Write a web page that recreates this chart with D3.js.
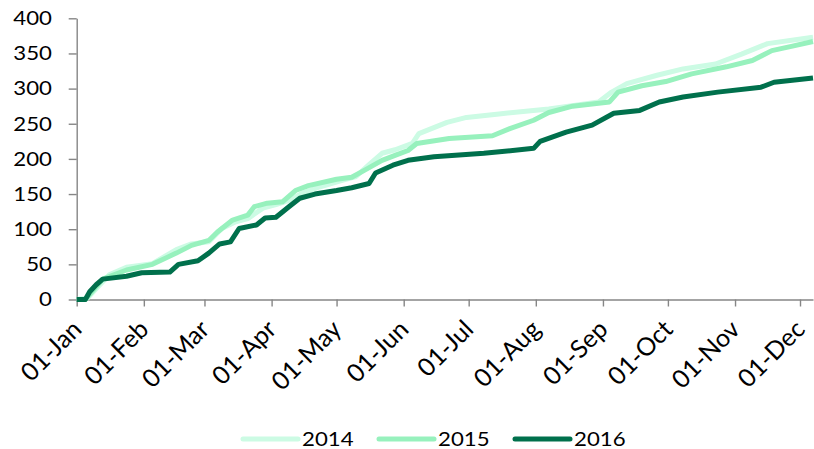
<!DOCTYPE html>
<html>
<head>
<meta charset="utf-8">
<script src="https://cdn.jsdelivr.net/npm/d3@7"></script>
<style>
body { margin: 0; background: #fff; }
text { font-family: Lato, "Open Sans", sans-serif; fill: #000; }
.axis path, .axis line { stroke: #868686; stroke-width: 1.4px; }
.series { fill: none; stroke-width: 5px; stroke-linejoin: round; stroke-linecap: butt; }
</style>
</head>
<body>
<div id="chart"></div>
<script>
// month-day on a common (non leap) year axis
const dates2014 = ['01-01','01-06','01-16','01-24','02-05','02-16','02-23','03-03','03-09','03-15','03-21','03-28','04-03','04-09','04-15','04-23','05-04','05-10','05-16','05-22','05-28','06-05','06-08','06-21','06-30','07-15','08-07','08-30','09-05','09-12','09-26','10-08','10-23','11-04','11-16','12-07']
const values2014 = [0,2,35,46,51,71,79,82,101,110,115,130,135,141,151,160,170,175,192,208,213,222,236,252,259,264,271,281,295,307,319,328,335,349,364,373]

const dates2015 = ['01-01','01-05','01-13','01-24','02-05','02-16','02-23','03-03','03-07','03-14','03-21','03-24','03-30','04-06','04-12','04-18','05-01','05-08','05-14','05-22','05-28','06-03','06-07','06-22','07-12','07-20','07-31','08-07','08-18','09-04','09-08','09-19','09-30','10-12','10-28','11-09','11-18','11-27','12-07']
const values2015 = [0,0,29,42,50,66,77,84,96,113,120,132,137,139,155,162,171,174,184,198,205,212,222,229,233,243,255,266,275,281,295,304,310,321,331,340,354,360,367]

const dates2016 = ['01-01','01-05','01-07','01-10','01-13','01-24','01-31','02-13','02-17','02-26','03-03','03-08','03-13','03-17','03-25','03-29','04-03','04-09','04-14','04-21','05-01','05-08','05-16','05-19','05-27','06-03','06-15','07-08','07-31','08-03','08-15','08-27','09-06','09-18','09-27','10-08','10-24','11-13','11-19','12-07']
const values2016 = [0,0,11,21,29,33,38,39,50,55,66,79,82,101,106,116,117,132,144,150,155,159,165,180,191,198,203,208,215,225,238,248,265,269,281,288,295,302,309,315]

const seriesNames = ['2014', '2015', '2016']
const seriesColors = ['#ccfbe4', '#97f1bd', '#00704c']

const yTicks = [0, 50, 100, 150, 200, 250, 300, 350, 400]
const monthTicks = ['01-01','02-01','03-01','04-01','05-01','06-01','07-01','08-01','09-01','10-01','11-01','12-01']

const width = 814, height = 449;
const margin = {left: 76.7, top: 18.3, right: 1, bottom: 149.5}

const parse = s => d3.timeParse('%Y-%m-%d')('2015-' + s);
const textStretch = 1.17;

const svg = d3.select('#chart')
.append('svg')
.attr('width', width)
.attr('height', height);

const xScale = d3.scaleTime()
.domain([parse('01-01'), parse('12-07')])
.range([margin.left, width - margin.right]);

const yScale = d3.scaleLinear()
.domain([0, 400])
.range([height - margin.bottom, margin.top]);

// y axis
svg.append('g')
.attr('class', 'axis')
.attr('transform', `translate(${margin.left},0)`)
.call(d3.axisLeft(yScale).tickValues(yTicks).tickSize(8).tickSizeOuter(0).tickFormat(''));

svg.selectAll('.ylab')
.data(yTicks)
.enter()
.append('text')
.attr('class', 'ylab')
.attr('transform', d => `translate(52,${yScale(d)}) scale(${textStretch},1)`)
.attr('text-anchor', 'end')
.attr('dy', '0.36em')
.style('font-size', '19px')
.text(d => d);

// x axis
svg.append('g')
.attr('class', 'axis')
.attr('transform', `translate(0,${height - margin.bottom})`)
.call(d3.axisBottom(xScale).tickValues(monthTicks.map(parse)).tickSize(7).tickSizeOuter(0).tickFormat(''));

svg.selectAll('.xlab')
.data(monthTicks)
.enter()
.append('text')
.attr('class', 'xlab')
.attr('transform', d => `translate(${xScale(parse(d))},${height - margin.bottom + 25}) rotate(-45)`)
.attr('text-anchor', 'end')
.attr('dy', '0.36em')
.style('font-size', '25px')
.text(d => d3.timeFormat('%d-%b')(parse(d)));

// lines
const line = d3.line()
.curve(d3.curveLinear)
.x(d => xScale(d.date))
.y(d => yScale(d.value));

const allSeries = [
	dates2014.map((d, i) => ({date: parse(d), value: values2014[i]})),
	dates2015.map((d, i) => ({date: parse(d), value: values2015[i]})),
	dates2016.map((d, i) => ({date: parse(d), value: values2016[i]}))
];

svg.selectAll('.series')
.data(allSeries)
.enter()
.append('path')
.attr('class', 'series')
.attr('stroke', (d, i) => seriesColors[i])
.attr('d', d => line(d));

// legend
const legendX = [243, 379, 515];
const legend = svg.selectAll('.legend')
.data(seriesNames)
.enter()
.append('g')
.attr('class', 'legend')
.attr('transform', (d, i) => `translate(${legendX[i]},439)`);

legend.append('line')
.attr('x1', 0).attr('x2', 55)
.attr('stroke', (d, i) => seriesColors[i])
.attr('stroke-width', 5)
.attr('stroke-linecap', 'round');

legend.append('text')
.attr('transform', `translate(59,0) scale(${textStretch},1)`)
.attr('dy', '0.36em')
.style('font-size', '19px')
.text(d => d);
</script>
</body>
</html>
